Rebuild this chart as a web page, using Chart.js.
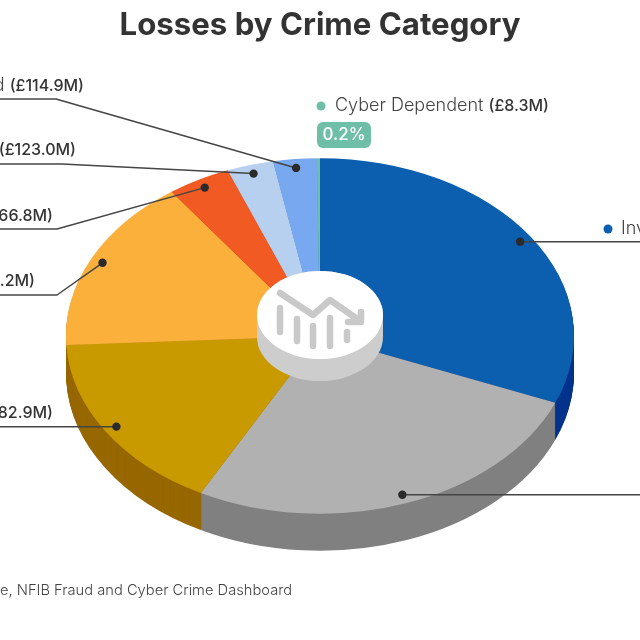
<!DOCTYPE html>
<html>
<head>
<meta charset="utf-8">
<style>
html, body { margin: 0; padding: 0; background: #fff; overflow: hidden; }
canvas { display: block; }
</style>
<script src="https://cdn.jsdelivr.net/npm/chart.js@4/dist/chart.umd.js"></script>
</head>
<body>
<canvas id="myChart" width="640" height="640"></canvas>
<script>
// only the part of each label that is inside the picture
var categories = ['Inv', '', '', '', '', '', 'd ', 'Cyber Dependent '];
var amounts = ['', '', '82.9M)', '.2M)', '66.8M)', '(£123.0M)', '(£114.9M)', '(£8.3M)'];
// £M, the two big ones and the 660 are estimated from the slice angles
var losses = [1295, 1108, 682.9, 660.2, 166.8, 123.0, 114.9, 8.3];
var topColors = ['#0b5fae', '#b1b1b1', '#c99900', '#fcb03c', '#f15a22', '#b7d0f0', '#78a9f0', '#6fbfa8'];
var sideColors = ['#02338c', '#808080', '#976700', '#c98a2c', '#b8441a', '#8ea6c4', '#5e87c4', '#539682'];
var badge = '0.2%';

var FONT = 'Inter, sans-serif';
var NAME_FONT = '300 18px ' + FONT;
var AMOUNT_FONT = '500 16px ' + FONT;
var SQUASH = 0.7, PIE_Y = 336, DEPTH = 37;

function tilt(ctx, arc, dy) {
    ctx.translate(0, PIE_Y + dy);
    ctx.scale(1, SQUASH);
    ctx.translate(0, -arc.y);
}

function anchor(arc) {
    var mid = (arc.startAngle + arc.endAngle) / 2;
    var r = arc.outerRadius * 0.95;
    return { x: arc.x + r * Math.cos(mid), y: PIE_Y + r * Math.sin(mid) * SQUASH };
}

// leader line, dot at the slice, then the knee and the end of the line
function leader(ctx, arc, knee, endX, y) {
    var p = anchor(arc);
    ctx.strokeStyle = '#454545';
    ctx.lineWidth = 1.5;
    ctx.beginPath();
    ctx.moveTo(p.x, p.y);
    if (knee !== null) ctx.lineTo(knee, y);
    ctx.lineTo(endX, y);
    ctx.stroke();
    ctx.fillStyle = '#2a2a2a';
    ctx.beginPath();
    ctx.arc(p.x, p.y, 4.2, 0, Math.PI * 2);
    ctx.fill();
}

// text ending at x, light name then bold amount
function label(ctx, i, x, y) {
    ctx.textBaseline = 'middle';
    ctx.textAlign = 'left';
    ctx.font = AMOUNT_FONT;
    var w2 = ctx.measureText(amounts[i]).width;
    ctx.font = NAME_FONT;
    var w1 = ctx.measureText(categories[i]).width;
    ctx.fillStyle = '#444';
    ctx.fillText(categories[i], x - w1 - w2, y);
    ctx.font = AMOUNT_FONT;
    ctx.fillStyle = '#333';
    ctx.fillText(amounts[i], x - w2, y);
}

function puck(ctx, arc) {
    var cx = arc.x;
    ctx.fillStyle = '#cdcdcd';
    ctx.beginPath();
    ctx.ellipse(cx, 337, 63, 44, 0, 0, Math.PI);
    ctx.ellipse(cx, 315, 63, 44, 0, Math.PI, Math.PI * 2);
    ctx.closePath();
    ctx.fill();
    ctx.fillStyle = '#fff';
    ctx.beginPath();
    ctx.ellipse(cx, 315, 63, 44, 0, 0, Math.PI * 2);
    ctx.fill();

    ctx.strokeStyle = '#c9c9c9';
    ctx.lineCap = 'round';
    ctx.lineJoin = 'round';
    ctx.lineWidth = 6.5;
    [[280, 308, 332], [297, 319, 341], [313, 326, 346], [330, 318, 346], [347, 332, 340]].forEach(function (b) {
        ctx.beginPath();
        ctx.moveTo(b[0], b[1]);
        ctx.lineTo(b[0], b[2]);
        ctx.stroke();
    });
    ctx.beginPath();
    ctx.moveTo(280, 293);
    ctx.lineTo(313, 315);
    ctx.lineTo(330, 300);
    ctx.lineTo(360, 321);
    ctx.stroke();
    ctx.beginPath();
    ctx.moveTo(361, 312);
    ctx.lineTo(361, 322);
    ctx.lineTo(348, 322);
    ctx.stroke();
    ctx.lineCap = 'butt';
}

var piePerspective = {
    id: 'piePerspective',
    beforeDatasetsDraw: function (chart) {
        var ctx = chart.ctx;
        var arcs = chart.getDatasetMeta(0).data;
        // side wall: the same slices repeated downwards in the dark colours
        for (var dy = DEPTH; dy > 0; dy--) {
            arcs.forEach(function (arc, i) {
                var keep = arc.options;
                arc.options = Object.create(keep);
                arc.options.backgroundColor = sideColors[i];
                arc.options.borderWidth = 0;
                ctx.save();
                tilt(ctx, arc, dy);
                arc.draw(ctx);
                ctx.restore();
                arc.options = keep;
            });
        }
        ctx.save();
        tilt(ctx, arcs[0], 0);
    },
    afterDatasetsDraw: function (chart) {
        var ctx = chart.ctx;
        var arcs = chart.getDatasetMeta(0).data;
        ctx.restore();

        puck(ctx, arcs[0]);

        leader(ctx, arcs[0], null, 640, anchor(arcs[0]).y);
        leader(ctx, arcs[1], null, 640, anchor(arcs[1]).y);
        leader(ctx, arcs[2], null, 0, anchor(arcs[2]).y);
        leader(ctx, arcs[3], 57, 0, 295);
        leader(ctx, arcs[4], 57, 0, 229);
        leader(ctx, arcs[5], 62, 0, 164);
        leader(ctx, arcs[6], 56, 0, 99);

        label(ctx, 2, 53, 413);
        label(ctx, 3, 35, 281);
        label(ctx, 4, 53, 216);
        label(ctx, 5, 76, 150);
        label(ctx, 6, 84, 86);
        label(ctx, 7, 549, 106);

        // the two labels on the right run off the picture
        ctx.textAlign = 'left';
        ctx.font = NAME_FONT;
        ctx.fillStyle = '#444';
        ctx.fillText(categories[0], 621, 229);

        ctx.fillStyle = topColors[0];
        ctx.beginPath();
        ctx.arc(608, 229, 4.5, 0, Math.PI * 2);
        ctx.fill();

        ctx.fillStyle = topColors[7];
        ctx.beginPath();
        ctx.arc(321, 106, 4.5, 0, Math.PI * 2);
        ctx.fill();

        ctx.beginPath();
        ctx.roundRect(317, 122, 54, 26, 6);
        ctx.fill();
        ctx.fillStyle = '#fff';
        ctx.font = '500 17px ' + FONT;
        ctx.textAlign = 'center';
        ctx.fillText(badge, 344, 135);

        ctx.textAlign = 'left';
        ctx.font = '300 14.7px ' + FONT;
        ctx.fillStyle = '#444';
        ctx.fillText('e, NFIB Fraud and Cyber Crime Dashboard', 0, 591);
    }
};

var ctx = document.getElementById('myChart').getContext('2d');
var myChart = new Chart(ctx, {
    type: 'pie',
    plugins: [piePerspective],
    data: {
        labels: categories.map(function (c, i) { return c + amounts[i]; }),
        datasets: [{
            data: losses,
            backgroundColor: topColors,
            borderWidth: 0,
            radius: 254,
            clip: false
        }]
    },
    options: {
        responsive: false,
        animation: false,
        layout: { padding: 0 },
        plugins: {
            legend: { display: false },
            tooltip: { enabled: false },
            title: {
                display: true,
                text: 'Losses by Crime Category',
                color: '#333',
                padding: { top: 7, bottom: 10 },
                font: { family: FONT, size: 31.2, weight: '700' }
            }
        }
    }
});
</script>
</body>
</html>
